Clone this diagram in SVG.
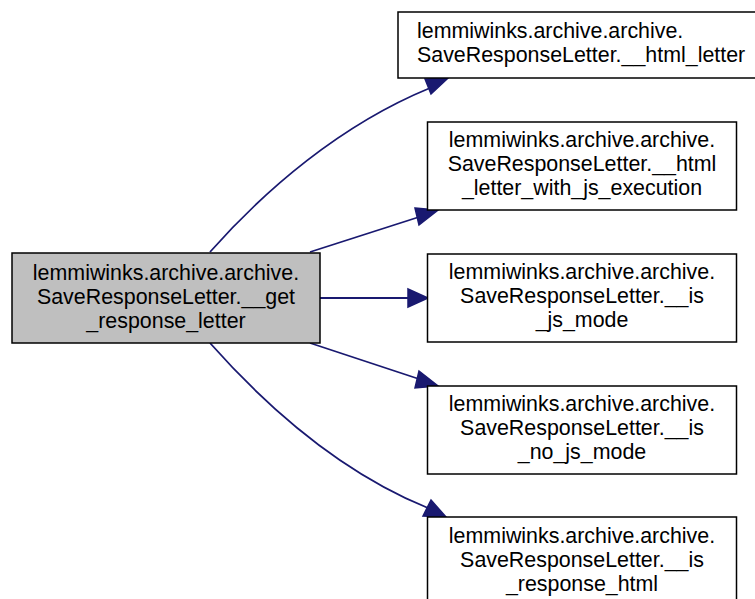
<svg xmlns="http://www.w3.org/2000/svg" width="755" height="599" viewBox="0 0 755 599">
<style>
.box{fill:#ffffff;stroke:#000000;stroke-width:1.5}
.root{fill:#bfbfbf;stroke:#000000;stroke-width:1.5}
text{font-family:"Liberation Sans",Arial,Helvetica,sans-serif;font-size:21.4px;fill:#000000}
.c{text-anchor:middle}
.edge{fill:none;stroke:#191970;stroke-width:1.8}
.ah{fill:#191970;stroke:#191970;stroke-width:1.5}
</style>
<rect x="0" y="0" width="755" height="599" fill="#ffffff"/>
<g id="connectors">
<path class="edge" d="M210,252 C265,190 340,125 430,88"/>
<polygon class="ah" points="425,79 448,78 431,94"/>
<path class="edge" d="M310,252 L419,217"/>
<polygon class="ah" points="415,208 438,210 419,225"/>
<path class="edge" d="M320,298 L408,298"/>
<polygon class="ah" points="408,289 428,298 408,307"/>
<path class="edge" d="M310,343 L419,379"/>
<polygon class="ah" points="419,371 438,386 415,388"/>
<path class="edge" d="M210,343 C265,405 340,472 428,508"/>
<polygon class="ah" points="431,500 446,517 423,516"/>
</g>
<g id="node_get_response_letter">
<rect class="root" x="12" y="253" width="308" height="90"/>
<text class="c" x="166" y="280">lemmiwinks.archive.archive.</text>
<text class="c" x="166" y="304">SaveResponseLetter.__get</text>
<text class="c" x="166" y="328">_response_letter</text>
</g>
<g id="node_html_letter">
<rect class="box" x="398" y="12" width="359" height="66"/>
<text x="417" y="38">lemmiwinks.archive.archive.</text>
<text x="417" y="62">SaveResponseLetter.__html_letter</text>
</g>
<g id="node_html_letter_with_js_execution">
<rect class="box" x="427.5" y="122" width="309" height="88"/>
<text class="c" x="582" y="147">lemmiwinks.archive.archive.</text>
<text class="c" x="582" y="171">SaveResponseLetter.__html</text>
<text class="c" x="582" y="195">_letter_with_js_execution</text>
</g>
<g id="node_is_js_mode">
<rect class="box" x="427.5" y="254" width="309" height="88"/>
<text class="c" x="582" y="279">lemmiwinks.archive.archive.</text>
<text class="c" x="582" y="303">SaveResponseLetter.__is</text>
<text class="c" x="582" y="327">_js_mode</text>
</g>
<g id="node_is_no_js_mode">
<rect class="box" x="427.5" y="386" width="309" height="88"/>
<text class="c" x="582" y="411">lemmiwinks.archive.archive.</text>
<text class="c" x="582" y="435">SaveResponseLetter.__is</text>
<text class="c" x="582" y="459">_no_js_mode</text>
</g>
<g id="node_is_response_html">
<rect class="box" x="427.5" y="517" width="309" height="90"/>
<text class="c" x="582" y="543">lemmiwinks.archive.archive.</text>
<text class="c" x="582" y="567">SaveResponseLetter.__is</text>
<text class="c" x="582" y="591">_response_html</text>
</g>
</svg>
